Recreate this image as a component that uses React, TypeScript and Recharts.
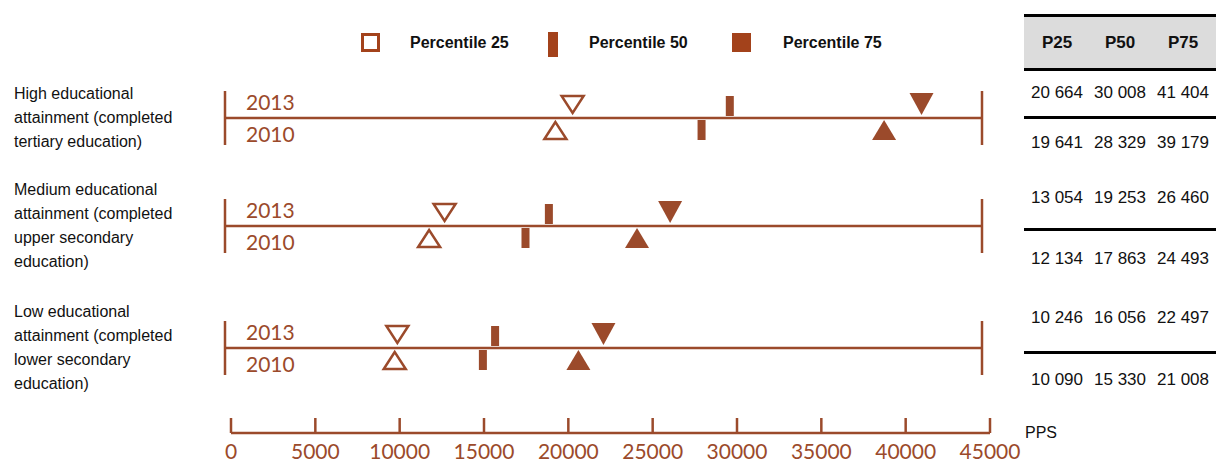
import { ComposedChart, Scatter, XAxis, YAxis, ReferenceLine } from 'recharts';

const groups = [
  'High educational attainment (completed tertiary education)',
  'Medium educational attainment (completed upper secondary education)',
  'Low educational attainment (completed lower secondary education)',
];
const years = ['2013', '2010'];
const p25_2013 = [20664, 13054, 10246];
const p50_2013 = [30008, 19253, 16056];
const p75_2013 = [41404, 26460, 22497];
const p25_2010 = [19641, 12134, 10090];
const p50_2010 = [28329, 17863, 15330];
const p75_2010 = [39179, 24493, 21008];
const xTicks = [0, 5000, 10000, 15000, 20000, 25000, 30000, 35000, 40000, 45000];
const legendLabels = ['Percentile 25', 'Percentile 50', 'Percentile 75'];
const tableHeaders = ['P25', 'P50', 'P75'];
const unitLabel = 'PPS';

const BROWN = '#9B4A2B';
const LEGEND_BROWN = '#A3421B';
const ARIAL = '"Liberation Sans", Arial, sans-serif';
const rowLineY = [118, 226, 348];
const tableRowY = [[93, 143], [198, 259], [318, 380]];
const tableRules = [15, 69, 117, 229, 352];
const colCenters = [1057, 1120, 1183];

const fmt = (n: number) => String(n).replace(/\B(?=(\d{3})+(?!\d))/g, ' ');

// marker shapes, drawn relative to the row line (cy)
const hollowDown = (p: any) => (
  <polygon points={`${p.cx - 11},${p.cy - 22} ${p.cx + 11},${p.cy - 22} ${p.cx},${p.cy - 5}`} fill="#fff" stroke={BROWN} strokeWidth={2.5} />
);
const hollowUp = (p: any) => (
  <polygon points={`${p.cx},${p.cy + 4} ${p.cx - 11},${p.cy + 21} ${p.cx + 11},${p.cy + 21}`} fill="#fff" stroke={BROWN} strokeWidth={2.5} />
);
const barTop = (p: any) => <rect x={p.cx - 4} y={p.cy - 22} width={8} height={20} fill={BROWN} />;
const barBottom = (p: any) => <rect x={p.cx - 4} y={p.cy + 2} width={8} height={20} fill={BROWN} />;
const solidDown = (p: any) => (
  <polygon points={`${p.cx - 12},${p.cy - 25} ${p.cx + 12},${p.cy - 25} ${p.cx},${p.cy - 3}`} fill={BROWN} />
);
const solidUp = (p: any) => (
  <polygon points={`${p.cx},${p.cy + 2} ${p.cx - 12},${p.cy + 22} ${p.cx + 12},${p.cy + 22}`} fill={BROWN} />
);
const noMark = () => <g />;

const series = [
  { key: 'p25_2013', values: p25_2013, shape: hollowDown },
  { key: 'p25_2010', values: p25_2010, shape: hollowUp },
  { key: 'p50_2013', values: p50_2013, shape: barTop },
  { key: 'p50_2010', values: p50_2010, shape: barBottom },
  { key: 'p75_2013', values: p75_2013, shape: solidDown },
  { key: 'p75_2010', values: p75_2010, shape: solidUp },
];

const yearLabels = (props: any) => {
  const vb = props.viewBox || {};
  const x = (vb.x ?? 0) + 21;
  const y = vb.y ?? 0;
  return (
    <g fontFamily="Lato, sans-serif" fontSize={21} fill={BROWN}>
      <text x={x} y={y - 17} dominantBaseline="central">{years[0]}</text>
      <text x={x} y={y + 15} dominantBaseline="central">{years[1]}</text>
    </g>
  );
};

function RowChart({ row }: { row: number }) {
  return (
    <ComposedChart width={800} height={74} margin={{ top: 10, right: 18, bottom: 10, left: 25 }}>
      <XAxis type="number" dataKey="x" domain={[0, 45000]} hide />
      <YAxis type="number" dataKey="y" domain={[-1, 1]} hide />
      <ReferenceLine y={0} stroke={BROWN} strokeWidth={2.5} label={yearLabels} />
      <ReferenceLine x={0} stroke={BROWN} strokeWidth={2.5} />
      <ReferenceLine x={45000} stroke={BROWN} strokeWidth={2.5} />
      {series.map((s) => (
        <Scatter key={s.key} data={[{ x: s.values[row], y: 0 }]} shape={s.shape} isAnimationActive={false} />
      ))}
    </ComposedChart>
  );
}

const AxisTick = (props: any) => {
  const { x, y, payload } = props;
  return (
    <g>
      <line x1={x} y1={y} x2={x} y2={y - 15} stroke={BROWN} strokeWidth={2.5} />
      <text x={x} y={y + 17.5} textAnchor="middle" dominantBaseline="central" fontFamily="Lato, sans-serif" fontSize={21} fill={BROWN}>
        {payload.value}
      </text>
    </g>
  );
};

export default function App() {
  const legendItems = [
    { label: legendLabels[0], textX: 410, mark: <div style={{ position: 'absolute', left: 361, top: 33, width: 13, height: 13, border: `3px solid ${LEGEND_BROWN}` }} /> },
    { label: legendLabels[1], textX: 589, mark: <div style={{ position: 'absolute', left: 548, top: 32, width: 10, height: 25, background: LEGEND_BROWN }} /> },
    { label: legendLabels[2], textX: 783, mark: <div style={{ position: 'absolute', left: 732, top: 33, width: 19, height: 19, background: LEGEND_BROWN }} /> },
  ];
  const axisData = xTicks.map((v) => ({ x: v, y: 0 }));

  return (
    <div style={{ position: 'absolute', left: 0, top: 0, width: 1216, height: 462, background: '#fff', overflow: 'hidden', fontFamily: ARIAL }}>
      {/* legend */}
      {legendItems.map((it) => (
        <div key={it.label}>
          {it.mark}
          <div style={{ position: 'absolute', left: it.textX, top: 33, fontSize: 16, fontWeight: 700, lineHeight: '20px', color: '#111' }}>{it.label}</div>
        </div>
      ))}

      {/* row labels */}
      {groups.map((g, i) => (
        <div key={g} style={{ position: 'absolute', left: 14, top: rowLineY[i] - 60, width: 185, height: 120, display: 'flex', alignItems: 'center', fontSize: 16, lineHeight: '24px', color: '#111' }}>
          <div>{g}</div>
        </div>
      ))}

      {/* rows */}
      {groups.map((g, i) => (
        <div key={g} style={{ position: 'absolute', left: 200, top: rowLineY[i] - 37 }}>
          <RowChart row={i} />
        </div>
      ))}

      {/* bottom axis */}
      <div style={{ position: 'absolute', left: 200, top: 400 }}>
        <ComposedChart width={840} height={62} data={axisData} margin={{ top: 0, right: 50, bottom: 0, left: 31 }}>
          <XAxis
            type="number"
            dataKey="x"
            domain={[0, 45000]}
            ticks={xTicks}
            interval={0}
            height={29}
            tickSize={0}
            tickMargin={0}
            axisLine={{ stroke: BROWN, strokeWidth: 2.5 }}
            tickLine={false}
            tick={AxisTick}
          />
          <YAxis type="number" dataKey="y" hide domain={[0, 1]} />
          <Scatter dataKey="y" shape={noMark} isAnimationActive={false} />
        </ComposedChart>
      </div>
      <div style={{ position: 'absolute', left: 1025, top: 423, fontSize: 16, lineHeight: '20px', color: '#111' }}>{unitLabel}</div>

      {/* table */}
      <div style={{ position: 'absolute', left: 1024, top: 15, width: 192, height: 54, background: '#DCDCDC' }} />
      {tableRules.map((y) => (
        <div key={y} style={{ position: 'absolute', left: 1024, top: y - 1, width: 192, height: 2.5, background: '#000' }} />
      ))}
      {tableHeaders.map((h, c) => (
        <div key={h} style={{ position: 'absolute', left: colCenters[c] - 31, top: 33, width: 62, textAlign: 'center', fontSize: 17, fontWeight: 700, lineHeight: '20px', color: '#111' }}>{h}</div>
      ))}
      {groups.map((g, i) =>
        [[p25_2013, p50_2013, p75_2013], [p25_2010, p50_2010, p75_2010]].map((cols, yi) =>
          cols.map((arr, c) => (
            <div key={`${i}-${yi}-${c}`} style={{ position: 'absolute', left: colCenters[c] - 31, top: tableRowY[i][yi] - 10, width: 62, textAlign: 'center', fontSize: 17, lineHeight: '20px', color: '#111' }}>
              {fmt(arr[i])}
            </div>
          ))
        )
      )}
    </div>
  );
}
